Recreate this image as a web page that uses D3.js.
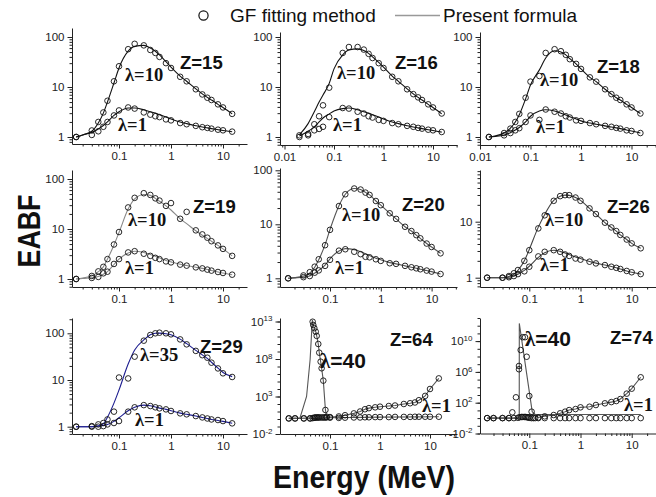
<!DOCTYPE html>
<html>
<head>
<meta charset="UTF-8">
<title>EABF: GF fitting vs present formula</title>
<script src="https://cdnjs.cloudflare.com/ajax/libs/d3/7.8.5/d3.min.js"></script>
<style>
  body { margin: 0; background: #fff; }
  svg { display: block; font-family: Arial, "Liberation Sans", sans-serif; }
  .tick text { font-size: 11.5px; fill: #222; }
  .domain, .tick line { stroke: #222; }
  .lam { font-family: "Liberation Serif", "Times New Roman", serif; font-weight: bold; font-size: 18.5px; fill: #111; }
  .zlab { font-weight: bold; font-size: 18.5px; fill: #111; }
</style>
</head>
<body>
<svg id="chart" width="656" height="497"></svg>
<script>
// standard energies (MeV)
const energy = [0.015,0.02,0.03,0.04,0.05,0.06,0.08,0.1,0.15,0.2,0.3,0.4,0.5,0.6,0.8,1,1.5,2,3,4,5,6,8,10,15];

// Z=15
const z15_l1_gf   = [1.0,null,1.1,1.3,1.6,2.0,2.7,3.4,3.9,3.7,3.1,2.8,2.6,2.5,2.25,2.15,1.9,1.8,1.67,1.57,1.52,1.47,1.4,1.36,1.28];
const z15_l1_fit  = [1.0,1.1,1.25,1.45,1.7,2.0,2.7,3.2,3.8,3.8,3.5,3.2,3.0,2.8,2.5,2.3,2.0,1.85,1.68,1.58,1.52,1.47,1.4,1.35,1.27];
const z15_l10_gf  = [1.0,null,1.35,2.0,3.1,5.3,13,26,57,73,68,55,48,40,30,24,16,13,9,7.1,6.1,5.5,4.5,3.9,2.9];
const z15_l10_fit = [1.0,1.1,1.3,1.9,3.0,5.0,12,24,52,65,68,60,52,44,32,25,16.5,13,9.2,7.3,6.2,5.5,4.5,3.9,2.9];
// Z=16
const z16_l1_gf   = [null,1.0,1.08,1.36,1.45,1.6,2.5,null,3.8,3.7,3.2,2.95,2.6,2.45,2.2,2.1,1.9,1.8,1.67,1.6,1.52,1.47,1.4,1.36,1.26];
const z16_l1_fit  = [null,1.05,1.3,1.6,2.0,2.4,2.9,3.3,3.7,3.8,3.5,3.2,3.0,2.8,2.5,2.3,2.0,1.85,1.68,1.58,1.52,1.47,1.4,1.35,1.25];
const z16_l10_gf  = [null,1.08,1.15,1.8,2.6,4.3,9.7,null,48,63,63,56,46,38,30,24,16,13,9,7.2,6.2,5.5,4.5,3.9,2.95];
const z16_l10_fit = [null,1.1,1.85,3.2,5,6.9,11.8,23,44,55,58,54,47,40,31,25,16.5,13,9.2,7.3,6.2,5.5,4.5,3.9,2.9];
// Z=18
const z18_l1_gf   = [1.0,null,1.08,1.2,1.36,1.5,2.0,2.7,2.2,3.55,3.2,2.95,2.6,2.45,2.15,2.1,1.9,1.8,1.67,1.6,1.52,1.47,1.36,1.32,1.2];
const z18_l1_fit  = [1.0,1.03,1.1,1.22,1.38,1.55,2.0,2.6,3.3,3.5,3.3,3.0,2.75,2.55,2.3,2.1,1.9,1.8,1.67,1.58,1.52,1.47,1.38,1.32,1.2];
const z18_l10_gf  = [1.0,null,1.2,1.47,2.0,2.9,6.1,12.8,16.6,48,57,52,44,36,29,23,15.6,12.8,9,7.2,6.1,5.5,4.5,3.9,2.95];
const z18_l10_fit = [1.0,1.05,1.2,1.5,2.0,2.8,5.8,11,22,38,53,50,44,37,29,23,15.6,12.8,9,7.2,6.1,5.5,4.5,3.9,2.95];
// Z=19
const z19_l1_gf   = [1.0,null,1.05,1.1,1.3,1.4,2.0,2.5,3.4,3.6,3.2,2.9,2.65,2.5,2.25,2.15,1.94,1.85,1.71,1.63,1.54,1.47,1.38,1.32,1.22];
const z19_l1_fit  = [1.0,1.02,1.06,1.12,1.25,1.4,1.95,2.5,3.3,3.6,3.4,3.1,2.85,2.65,2.35,2.2,1.97,1.86,1.72,1.63,1.55,1.48,1.38,1.32,1.22];
const z19_l10_gf  = [1.0,null,1.15,1.42,1.75,2.5,4.9,8.7,27,42,52,48,41,37,29,33,16,22,9.4,7.8,6.7,5.7,4.7,4.0,2.9];
const z19_l10_fit = [1.0,1.05,1.15,1.4,1.75,2.5,4.8,8.5,25,40,49,47,41,36,29,24,16,12.8,9.2,7.5,6.5,5.7,4.7,4.0,2.9];
// Z=20
const z20_l1_gf   = [1.0,null,1.05,1.1,1.27,1.4,1.7,2.2,3.25,3.45,3.1,2.8,2.5,2.45,2.25,2.1,1.9,1.85,1.7,1.6,1.53,1.47,1.39,1.33,1.2];
const z20_l1_fit  = [1.0,1.02,1.05,1.1,1.25,1.4,1.75,2.3,3.2,3.55,3.4,3.1,2.85,2.65,2.35,2.2,1.95,1.85,1.7,1.6,1.53,1.47,1.39,1.33,1.2];
const z20_l10_gf  = [1.0,null,1.13,1.3,1.64,2.25,4.1,7.9,21.8,36,46,44,38.6,35,27,22.6,16,12.6,9.0,7.5,6.3,5.5,4.4,3.8,2.9];
const z20_l10_fit = [1.0,1.03,1.1,1.25,1.6,2.2,4.2,8.0,22,36,46,44,39,35,27,22.6,16,12.6,9,7.5,6.3,5.5,4.4,3.8,2.9];
// Z=26
const z26_l1_gf   = [1.0,null,1.0,1.02,1.07,1.16,1.3,1.57,2.4,2.9,3.1,2.9,2.6,2.45,2.2,2.1,1.93,1.8,1.68,1.57,1.5,1.43,1.32,1.25,1.16];
const z26_l1_fit  = [1.0,1.0,1.0,1.02,1.07,1.15,1.35,1.6,2.3,2.8,3.1,2.95,2.75,2.6,2.35,2.2,1.95,1.82,1.68,1.58,1.5,1.43,1.32,1.25,1.16];
const z26_l10_gf  = [1.0,null,1.0,1.07,1.2,1.37,2.0,3.1,7.6,13,23.6,28.6,29.8,29.8,27,23.6,17.3,13.7,9.6,7.9,6.8,5.8,4.8,4.1,3.35];
const z26_l10_fit = [1.0,1.0,1.0,1.05,1.15,1.35,2.0,3.2,8,13.5,24,28.5,29.8,29.5,27,24,17.3,13.7,9.6,7.9,6.8,5.8,4.8,4.1,3.35];
// Z=29
const z29_l1_gf   = [1.0,null,1.0,1.0,1.03,1.12,1.2,1.32,2.1,2.6,2.9,2.77,2.6,2.47,2.35,2.17,1.93,1.84,1.69,1.58,1.5,1.43,1.39,1.32,1.18];
const z29_l1_fit  = [1.0,1.0,1.0,1.02,1.06,1.12,1.3,1.55,2.2,2.6,2.9,2.8,2.65,2.5,2.35,2.2,1.95,1.84,1.69,1.58,1.5,1.43,1.36,1.3,1.18];
const z29_l35_gf  = [1.0,null,1.03,1.12,1.2,1.43,2.1,11.3,10.8,31.6,69.5,92,100,103,100,95,74,58,42,34,30,23.5,17.7,13.9,11.6];
const z29_l35_fit = [1.0,1.0,1.0,1.05,1.15,1.6,3.2,6.1,22,44,72,93,100,101,98,93,75,60,43,34.5,29,24,18,14.5,11.8];

// Z=64 (K-edge region sampled finely)
const e64_l1      = [0.015,0.02,0.03,0.04,0.045,0.048,0.05,0.052,0.055,0.058,0.06,0.065,0.07,0.075,0.08,0.085,0.1,0.15,0.2,0.3,0.4,0.5,0.6,0.8,1,1.5,2,3,4,5,6,8,10,15];
const z64_l1_gf   = [1.2,1.2,1.2,1.2,1.3,1.5,1.5,1.6,1.6,1.6,1.6,1.6,1.6,1.6,1.6,1.6,1.5,1.4,1.5,1.6,1.6,1.7,1.7,1.8,1.8,1.8,1.9,1.9,1.9,2.0,2.0,2.0,2.0,2.0];
const e64_l1_fit  = [0.015,0.045,0.1,1,15];
const z64_l1_fit  = [1.2,1.3,1.5,1.8,2.0];
const e64_l40     = [0.015,0.02,0.03,0.04,0.045,0.0463,0.0486,0.0518,0.0542,0.0583,0.061,0.065,0.068,0.0735,0.081,0.086,0.1,0.15,0.2,0.3,0.4,0.5,0.6,0.8,1,1.5,2,3,4,5,6,8,10,15];
const z64_l40_gf  = [1.2,1.2,1.2,1.2,9.3e12,3.4e12,1.3e12,4.4e11,1.2e11,1e10,6.9e8,4.4e7,5.8e6,1.3e5,16,2,1.8,2.2,3.2,5.6,10,20,28,36,44,54,63,100,126,160,320,1200,1e4,2.6e5];
const e64_l40_fit = [0.015,0.02,0.025,0.034,0.04,0.0443,0.0463,0.0486,0.0518,0.0542,0.0583,0.061,0.065,0.068,0.0735,0.081,0.086,0.1,0.15,0.2,0.3,0.4,0.5,0.6,0.8,1,1.5,2,3,4,5,6,8,10,15];
const z64_l40_fit = [1.2,1.2,1.3,1e3,8e7,1.6e13,3.4e12,1.3e12,4.4e11,1.2e11,1e10,6.9e8,4.4e7,5.8e6,1.3e5,16,2,1.8,2.2,3.2,5.6,10,20,28,36,44,54,63,100,126,160,320,1200,1e4,2.6e5];

// Z=74
const e74_l1      = [0.015,0.02,0.03,0.04,0.05,0.06,0.065,0.07,0.075,0.08,0.085,0.09,0.095,0.1,0.11,0.12,0.13,0.15,0.2,0.3,0.4,0.5,0.6,0.8,1,1.5,2,3,4,5,6,8,10,15];
const z74_l1_gf   = [1,1,1,1,1,1.1,1.3,1.4,1.4,1.4,1.4,1.3,1.2,1.1,1,1,1,1,1,1,1,1,1,1,1,1,1,1,1,1,1,1,1,1];
const e74_l1_fit  = [0.015,0.063,0.0638,15];
const z74_l1_fit  = [1.0,1.0,3.0,3.0];
const e74_l40     = [0.015,0.02,0.03,0.04,0.0466,0.0549,0.0629,0.0629,0.0679,0.0743,0.0824,0.0889,0.1,0.111,0.15,0.2,0.3,0.4,0.5,0.6,0.8,1,1.5,2,3,4,5,6,8,10,15];
const z74_l40_gf  = [1,1,1,1,5.6,500,5.9e6,2.2e6,6.9e8,3.2e10,3.2e10,9.3e7,740,6.8,1.2,1.7,2.5,4.2,6.8,11,15,25,30,50,83,120,165,300,1500,6600,2e5];
const e74_l40_fit = [0.015,0.06,0.0636,0.0638,0.114,0.15,0.2,0.3,0.4,0.5,0.6,0.8,1,1.5,2,3,4,5,6,8,10,15];
const z74_l40_fit = [1,1,1,2e12,6.8,1.2,1.7,2.5,4.2,6.8,11,15,25,30,50,83,120,165,300,1500,6600,2e5];

const zip = (xs, ys) => xs.map((x, i) => [x, ys[i]]);

// panel layout (pixel frame + where reference decades sit)
const panels = [
  {z:"Z=15", zPos:[180,69], x:[72,247], x01:119, xDec:52, y:[28,144], yRef:[137,1], yDec:50, xt:[0.1,1,10], yt:[1,10,100], color:"#111",
   lo:{pts:zip(energy,z15_l1_gf), fit:zip(energy,z15_l1_fit), lab:"λ=1", pos:[118,131]},
   hi:{pts:zip(energy,z15_l10_gf), fit:zip(energy,z15_l10_fit), lab:"λ=10", pos:[125,81]}},
  {z:"Z=16", zPos:[395,69], x:[280,457], x01:334, xDec:49.5, y:[32,145], yRef:[137,1], yDec:50, xt:[0.01,0.1,1,10], yt:[1,10,100], color:"#111",
   lo:{pts:zip(energy,z16_l1_gf), fit:zip(energy,z16_l1_fit), lab:"λ=1", pos:[333,131]},
   hi:{pts:zip(energy,z16_l10_gf), fit:zip(energy,z16_l10_fit), lab:"λ=10", pos:[337,79]}},
  {z:"Z=18", zPos:[597,73], x:[480,656], x01:530.5, xDec:50.5, y:[32,145], yRef:[137,1], yDec:50, xt:[0.01,0.1,1,10], yt:[1,10,100], color:"#111",
   lo:{pts:zip(energy,z18_l1_gf), fit:zip(energy,z18_l1_fit), lab:"λ=1", pos:[536,133]},
   hi:{pts:zip(energy,z18_l10_gf), fit:zip(energy,z18_l10_fit), lab:"λ=10", pos:[540,86]}},
  {z:"Z=19", zPos:[193,213], x:[72,247], x01:119, xDec:52, y:[170,287], yRef:[279,1], yDec:50, xt:[0.1,1,10], yt:[1,10,100], color:"#888",
   lo:{pts:zip(energy,z19_l1_gf), fit:zip(energy,z19_l1_fit), lab:"λ=1", pos:[125,274]},
   hi:{pts:zip(energy,z19_l10_gf), fit:zip(energy,z19_l10_fit), lab:"λ=10", pos:[128,226]}},
  {z:"Z=20", zPos:[402,211], x:[280,457], x01:330, xDec:50.8, y:[168,287], yRef:[278.3,1], yDec:54, xt:[0.1,1,10], yt:[1,10,100], color:"#555",
   lo:{pts:zip(energy,z20_l1_gf), fit:zip(energy,z20_l1_fit), lab:"λ=1", pos:[335,274]},
   hi:{pts:zip(energy,z20_l10_gf), fit:zip(energy,z20_l10_fit), lab:"λ=10", pos:[342,221]}},
  {z:"Z=26", zPos:[607,213], x:[480,656], x01:529.3, xDec:51.2, y:[170,287], yRef:[277.7,1], yDec:56, xt:[0.1,1,10], yt:[1,10], color:"#444",
   lo:{pts:zip(energy,z26_l1_gf), fit:zip(energy,z26_l1_fit), lab:"λ=1", pos:[540,271]},
   hi:{pts:zip(energy,z26_l10_gf), fit:zip(energy,z26_l10_fit), lab:"λ=10", pos:[545,226]}},
  {z:"Z=29", zPos:[200,353], x:[72,247], x01:119, xDec:52, y:[318,434], yRef:[426.7,1], yDec:46.7, xt:[0.1,1,10], yt:[1,10,100], color:"#1c1c8f",
   lo:{pts:zip(energy,z29_l1_gf), fit:zip(energy,z29_l1_fit), lab:"λ=1", pos:[135,426]},
   hi:{pts:zip(energy,z29_l35_gf), fit:zip(energy,z29_l35_fit), lab:"λ=35", pos:[140,361]}},
  {z:"Z=64", zPos:[390,346], x:[280,457], x01:330, xDec:50, y:[318,434], yRef:[434,0.01], yDec:7.5, xt:[0.1,1,10], yt:[1e-2,1e3,1e8,1e13], pow:true, color:"#555", linear:true,
   lo:{pts:zip(e64_l1,z64_l1_gf), fit:zip(e64_l1_fit,z64_l1_fit), lab:"λ=1", pos:[422,412]},
   hi:{pts:zip(e64_l40,z64_l40_gf), fit:zip(e64_l40_fit,z64_l40_fit), lab:"λ=40", pos:[320,368], big:true}},
  {z:"Z=74", zPos:[610,344], x:[480,656], x01:529.3, xDec:51.2, y:[318,433.5], yRef:[433.5,0.01], yDec:7.7, xt:[0.1,1,10], yt:[1e-2,1e2,1e6,1e10], pow:true, lowDash:true, color:"#555", linear:true,
   lo:{pts:zip(e74_l1,z74_l1_gf), fit:zip(e74_l1_fit,z74_l1_fit), lab:"λ=1", pos:[624,411]},
   hi:{pts:zip(e74_l40,z74_l40_gf), fit:zip(e74_l40_fit,z74_l40_fit), lab:"λ=40", pos:[525,346], big:true}}
];

const svg = d3.select("#chart");

function minorTicks(domain, perDecade) {
  const out = [];
  const lo = Math.floor(Math.log10(domain[0])), hi = Math.ceil(Math.log10(domain[1]));
  for (let d = lo; d <= hi; d++) {
    const ks = perDecade ? [2,3,4,5,6,7,8,9] : [1];
    ks.forEach(k => {
      const v = k * Math.pow(10, d);
      if (v >= domain[0] && v <= domain[1]) out.push(v);
    });
  }
  return out;
}

panels.forEach(p => {
  const xv = px => 0.1 * Math.pow(10, (px - p.x01) / p.xDec);
  const yv = px => p.yRef[1] * Math.pow(10, (p.yRef[0] - px) / p.yDec);
  const x = d3.scaleLog().domain([xv(p.x[0]), xv(p.x[1])]).range(p.x);
  const y = d3.scaleLog().domain([yv(p.y[1]), yv(p.y[0])]).range([p.y[1], p.y[0]]);

  const g = svg.append("g");

  // minor ticks
  g.append("g").attr("transform", `translate(0,${p.y[1]})`)
    .call(d3.axisBottom(x).tickValues(minorTicks(x.domain(), true)).tickSize(2.5).tickFormat(""))
    .call(a => a.select(".domain").remove());
  g.append("g").attr("transform", `translate(${p.x[0]},0)`)
    .call(d3.axisLeft(y).tickValues(minorTicks(y.domain(), !p.pow)).tickSize(2.5).tickFormat(""))
    .call(a => a.select(".domain").remove());

  // major axes
  g.append("g").attr("transform", `translate(0,${p.y[1]})`)
    .call(d3.axisBottom(x).tickValues(p.xt).tickSize(4.5).tickSizeOuter(0).tickPadding(3).tickFormat(d => String(d)));
  const ya = g.append("g").attr("transform", `translate(${p.x[0]},0)`)
    .call(d3.axisLeft(y).tickValues(p.yt).tickSize(4.5).tickSizeOuter(0).tickPadding(3).tickFormat(d => String(d)));
  if (p.pow) {
    ya.selectAll(".tick text").each(function(d) {
      const t = d3.select(this).text("");
      const e = Math.round(Math.log10(d));
      t.append("tspan").text((p.lowDash && e === -2 ? "-" : "") + "10");
      t.append("tspan").attr("dy", "-0.55em").attr("font-size", "8px").text(String(e));
    });
  }

  const line = d3.line()
    .defined(d => d[1] != null)
    .x(d => x(d[0])).y(d => y(d[1]))
    .curve(p.linear ? d3.curveLinear : d3.curveMonotoneX);

  [p.lo, p.hi].forEach(s => {
    g.append("path").datum(s.fit)
      .attr("d", line)
      .attr("fill", "none")
      .attr("stroke", p.color)
      .attr("stroke-width", 1.1);
  });
  [p.lo, p.hi].forEach(s => {
    g.selectAll(null).data(s.pts.filter(d => d[1] != null)).join("circle")
      .attr("cx", d => x(d[0])).attr("cy", d => y(d[1]))
      .attr("r", 2.8)
      .attr("fill", "none")
      .attr("stroke", "#111")
      .attr("stroke-width", 0.9);
  });

  // labels
  g.append("text").attr("class", "zlab").attr("x", p.zPos[0]).attr("y", p.zPos[1]).text(p.z);
  [p.lo, p.hi].forEach(s => {
    const t = g.append("text").attr("class", "lam").attr("x", s.pos[0]).attr("y", s.pos[1]);
    if (s.big) {
      t.style("font-size", "21px");
      t.append("tspan").text("λ");
      t.append("tspan").style("font-family", "Arial, 'Liberation Sans', sans-serif").text(s.lab.slice(1));
    } else {
      t.text(s.lab);
    }
  });
});

// legend
svg.append("circle").attr("cx", 203.5).attr("cy", 15.5).attr("r", 4.6)
  .attr("fill", "none").attr("stroke", "#111").attr("stroke-width", 1.2);
svg.append("text").attr("x", 230).attr("y", 22).style("font-size", "19px").attr("fill", "#111").text("GF fitting method");
svg.append("line").attr("x1", 395).attr("x2", 440).attr("y1", 15.5).attr("y2", 15.5)
  .attr("stroke", "#999").attr("stroke-width", 1.5);
svg.append("text").attr("x", 443).attr("y", 22).style("font-size", "19px").attr("fill", "#111").text("Present formula");

// axis titles
svg.append("text")
  .attr("transform", "translate(40,231) rotate(-90)")
  .attr("text-anchor", "middle")
  .attr("textLength", 73).attr("lengthAdjust", "spacingAndGlyphs")
  .style("font-size", "31px").style("font-weight", "bold").attr("fill", "#111")
  .text("EABF");
svg.append("text")
  .attr("x", 273).attr("y", 488)
  .attr("textLength", 182).attr("lengthAdjust", "spacingAndGlyphs")
  .style("font-size", "31px").style("font-weight", "bold").attr("fill", "#111")
  .text("Energy (MeV)");
</script>
</body>
</html>
